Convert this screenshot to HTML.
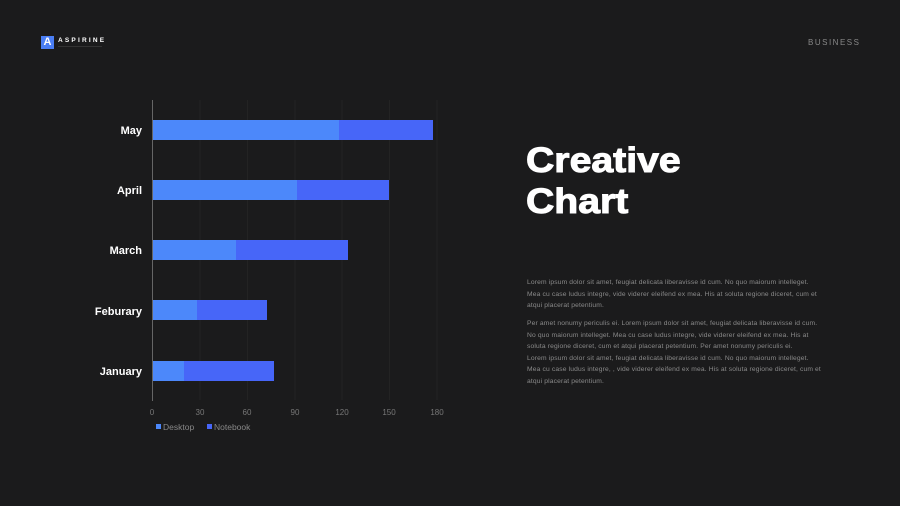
<!DOCTYPE html>
<html><head><style>
body{margin:0;width:900px;height:506px;background:#1b1b1c;overflow:hidden;font-family:"Liberation Sans",sans-serif;position:relative}
.p{position:absolute;color:#8a8a8a;font-size:6.7px;letter-spacing:0.15px;line-height:11.5px;left:527px;width:320px;white-space:nowrap}
</style></head><body>
<div style="position:absolute;left:41px;top:36px;width:13px;height:13px;background:#4a7ef5;color:#fff;font-weight:bold;font-size:11px;text-align:center;line-height:13px">A</div>
<div style="position:absolute;left:58px;top:37px;color:#fff;font-size:6.5px;letter-spacing:2.2px;font-weight:bold">ASPIRINE</div>
<div style="position:absolute;left:58px;top:46px;width:44px;height:1px;background:#333"></div>
<div style="position:absolute;left:808px;top:38px;color:#888;font-size:8px;letter-spacing:1.5px">BUSINESS</div>
<div style="position:absolute;left:526px;top:140px;color:#fff;font-weight:bold;font-size:35px;line-height:41px;transform:scaleX(1.12);transform-origin:0 0;-webkit-text-stroke:1px #fff">Creative<br>Chart</div>
<div class="p" style="top:277px">Lorem ipsum dolor sit amet, feugiat delicata liberavisse id cum. No quo maiorum intelleget.<br>Mea cu case ludus integre, vide viderer eleifend ex mea. His at soluta regione diceret, cum et<br>atqui placerat petentium.</div>
<div class="p" style="top:318px">Per amet nonumy periculis ei. Lorem ipsum dolor sit amet, feugiat delicata liberavisse id cum.<br>No quo maiorum intelleget. Mea cu case ludus integre, vide viderer eleifend ex mea. His at<br>soluta regione diceret, cum et atqui placerat petentium. Per amet nonumy periculis ei.<br>Lorem ipsum dolor sit amet, feugiat delicata liberavisse id cum. No quo maiorum intelleget.<br>Mea cu case ludus integre, , vide viderer eleifend ex mea. His at soluta regione diceret, cum et<br>atqui placerat petentium.</div>
<svg width="900" height="506" style="position:absolute;left:0;top:0" font-family="Liberation Sans,sans-serif">
<g stroke="#232323" stroke-width="1">
<line x1="200" y1="100" x2="200" y2="400"/><line x1="247.5" y1="100" x2="247.5" y2="400"/><line x1="295" y1="100" x2="295" y2="400"/><line x1="342" y1="100" x2="342" y2="400"/><line x1="389.5" y1="100" x2="389.5" y2="400"/><line x1="437" y1="100" x2="437" y2="400"/>
</g>
<line x1="152.5" y1="100" x2="152.5" y2="401" stroke="#666"/>
<g>
<rect x="153" y="120" width="186" height="20" fill="#4c88fa"/><rect x="339" y="120" width="94" height="20" fill="#4766f8"/>
<rect x="153" y="180" width="144" height="20" fill="#4c88fa"/><rect x="297" y="180" width="92" height="20" fill="#4766f8"/>
<rect x="153" y="240" width="83" height="20" fill="#4c88fa"/><rect x="236" y="240" width="112" height="20" fill="#4766f8"/>
<rect x="153" y="300" width="44" height="20" fill="#4c88fa"/><rect x="197" y="300" width="70" height="20" fill="#4766f8"/>
<rect x="153" y="361" width="31" height="20" fill="#4c88fa"/><rect x="184" y="361" width="90" height="20" fill="#4766f8"/>
</g>
<g fill="#fff" font-size="11" font-weight="bold" text-anchor="end">
<text x="142" y="134">May</text><text x="142" y="194">April</text><text x="142" y="254">March</text><text x="142" y="315">Feburary</text><text x="142" y="375">January</text>
</g>
<g fill="#777" font-size="8" text-anchor="middle">
<text x="152" y="415">0</text><text x="200" y="415">30</text><text x="247" y="415">60</text><text x="295" y="415">90</text><text x="342" y="415">120</text><text x="389" y="415">150</text><text x="437" y="415">180</text>
</g>
<rect x="156" y="424" width="5" height="5" fill="#4c88fa"/><text x="163" y="430" fill="#888" font-size="8.5">Desktop</text>
<rect x="207" y="424" width="5" height="5" fill="#4766f8"/><text x="214" y="430" fill="#888" font-size="8.5">Notebook</text>
</svg>
</body></html>
